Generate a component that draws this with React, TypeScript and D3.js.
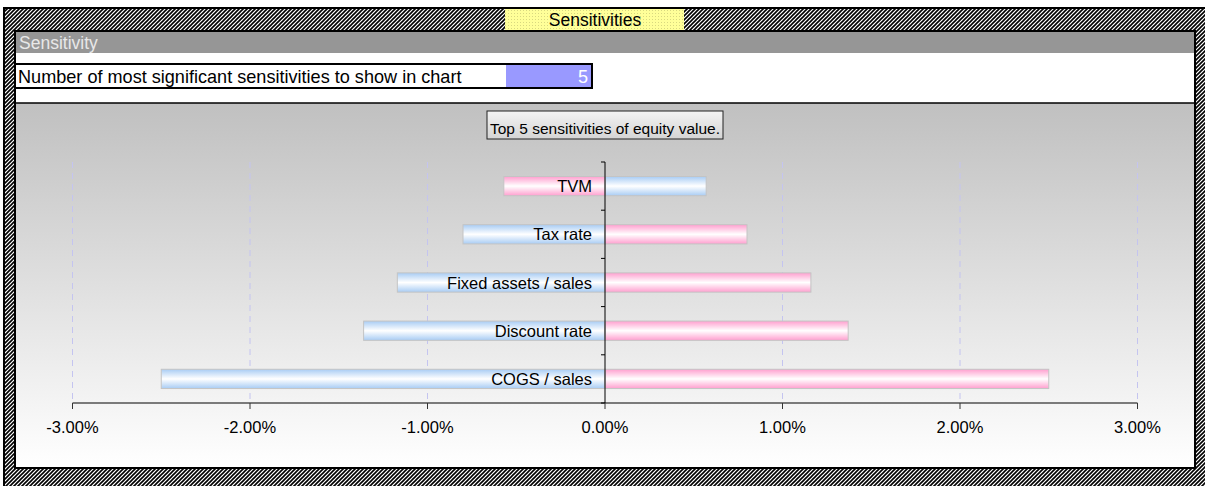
import React from 'react';
import * as d3 from 'd3';

const categories = ['TVM', 'Tax rate', 'Fixed assets / sales', 'Discount rate', 'COGS / sales'];
// two sides of each sensitivity: blue bars and pink bars
const blueValues = [0.0057, -0.008, -0.0117, -0.0136, -0.025];
const pinkValues = [-0.0057, 0.008, 0.0116, 0.0137, 0.025];
const xTicks = [-0.03, -0.02, -0.01, 0, 0.01, 0.02, 0.03];

const FONT = '"Liberation Sans", Arial, sans-serif';

const App: React.FC = () => {
  const width = 1205;
  const height = 486;

  const x = d3.scaleLinear().domain([-0.03, 0.03]).range([72.5, 1137.5]);
  const y = d3.scaleBand<string>()
    .domain(categories)
    .range([162, 403])
    .paddingInner(0.6)
    .paddingOuter(0.3);
  const step = y.step();
  const fmt = (v: number) => d3.format('.2%')(v).replace('\u2212', '-');

  const bar = (v: number, cat: string, fill: string, key: string) => {
    const x0 = Math.min(x(0), x(v));
    const w = Math.abs(x(v) - x(0));
    return (
      <rect key={key} x={x0} y={y(cat)} width={w} height={y.bandwidth()}
        fill={fill} stroke="#c4c4c4" strokeWidth={1} />
    );
  };

  return (
    <svg width={width} height={height} style={{ position: 'absolute', left: 0, top: 0, fontFamily: FONT }}>
      <defs>
        <pattern id="hatch" patternUnits="userSpaceOnUse" width={4} height={4}>
          <rect width={4} height={4} fill="#fff" />
          <path d="M-1,1 l2,-2 M0,4 l4,-4 M3,5 l2,-2" stroke="#000" strokeWidth={1.6} />
        </pattern>
        <pattern id="dots" patternUnits="userSpaceOnUse" width={3} height={3}>
          <rect width={3} height={3} fill="#ffff99" />
          <rect x={1} y={1} width={1} height={1} fill="#d8d880" />
        </pattern>
        <linearGradient id="bg" x1="0" y1="0" x2="0" y2="1">
          <stop offset="0" stopColor="#c0c0c0" />
          <stop offset="1" stopColor="#ffffff" />
        </linearGradient>
        <linearGradient id="titleBg" x1="0" y1="0" x2="0" y2="1">
          <stop offset="0" stopColor="#f4f4f4" />
          <stop offset="1" stopColor="#d4d4d4" />
        </linearGradient>
        <linearGradient id="blueGrad" x1="0" y1="0" x2="0" y2="1">
          <stop offset="0" stopColor="#a8ccf4" />
          <stop offset="0.5" stopColor="#ffffff" />
          <stop offset="1" stopColor="#a8ccf4" />
        </linearGradient>
        <linearGradient id="pinkGrad" x1="0" y1="0" x2="0" y2="1">
          <stop offset="0" stopColor="#ff9fcf" />
          <stop offset="0.5" stopColor="#ffffff" />
          <stop offset="1" stopColor="#ff9fcf" />
        </linearGradient>
      </defs>

      <rect width={width} height={height} fill="#fff" />
      {/* hatched frame */}
      <rect x={4} y={8} width={1210} height={490} fill="url(#hatch)" stroke="#000" strokeWidth={2} />
      <rect x={505} y={9} width={179} height={21} fill="url(#dots)" />
      <text x={595} y={26} textAnchor="middle" fontSize={17.5} fill="#000">Sensitivities</text>

      {/* sheet area */}
      <rect x={15} y={31} width={1180} height={437} fill="#fff" stroke="#000" strokeWidth={2} />
      <rect x={16} y={32} width={1178} height={21} fill="#969696" />
      <text x={19} y={49} fontSize={17.5} fill="#e8e8e8">Sensitivity</text>

      <rect x={15} y={64} width={577} height={24} fill="#fff" stroke="#000" strokeWidth={2} />
      <rect x={506} y={65} width={85} height={22} fill="#9999ff" />
      <text x={18} y={83} fontSize={18.1} fill="#000">Number of most significant sensitivities to show in chart</text>
      <text x={588} y={83} fontSize={18.1} fill="#fff" textAnchor="end">5</text>

      <rect x={16} y={103} width={1178} height={364} fill="url(#bg)" />
      <line x1={16} x2={1194} y1={103} y2={103} stroke="#000" strokeWidth={1.5} />

      {/* chart title */}
      <rect x={487} y={111} width={236} height={28} fill="url(#titleBg)" stroke="#222" strokeWidth={1} />
      <text x={605} y={134} fontSize={15.5} textAnchor="middle" fill="#000">Top 5 sensitivities of equity value.</text>

      {/* gridlines */}
      {xTicks.filter(t => t !== 0).map(t => (
        <line key={`g${t}`} x1={x(t)} x2={x(t)} y1={162} y2={403}
          stroke="#c4c4f0" strokeWidth={1} strokeDasharray="6,5" />
      ))}

      {/* bars */}
      {categories.map((c, i) => bar(blueValues[i], c, 'url(#blueGrad)', `b${i}`))}
      {categories.map((c, i) => bar(pinkValues[i], c, 'url(#pinkGrad)', `p${i}`))}

      {/* category labels */}
      {categories.map(c => (
        <text key={`l${c}`} x={592} y={(y(c) ?? 0) + y.bandwidth() / 2 + 6}
          fontSize={16.5} textAnchor="end" fill="#000">{c}</text>
      ))}

      {/* vertical axis */}
      <line x1={x(0)} x2={x(0)} y1={162} y2={403} stroke="#000" strokeWidth={1} />
      {d3.range(categories.length + 1).map(i => (
        <line key={`vt${i}`} x1={x(0) - 4} x2={x(0)} y1={162 + i * step} y2={162 + i * step}
          stroke="#000" strokeWidth={1} />
      ))}

      {/* horizontal axis */}
      <line x1={x(-0.03)} x2={x(0.03)} y1={403} y2={403} stroke="#000" strokeWidth={1} />
      {xTicks.map(t => (
        <g key={`t${t}`}>
          <line x1={x(t)} x2={x(t)} y1={403} y2={409} stroke="#333" strokeWidth={1} />
          <text x={x(t)} y={433} fontSize={16.5} textAnchor="middle" fill="#000">{fmt(t)}</text>
        </g>
      ))}
    </svg>
  );
};

export default App;
